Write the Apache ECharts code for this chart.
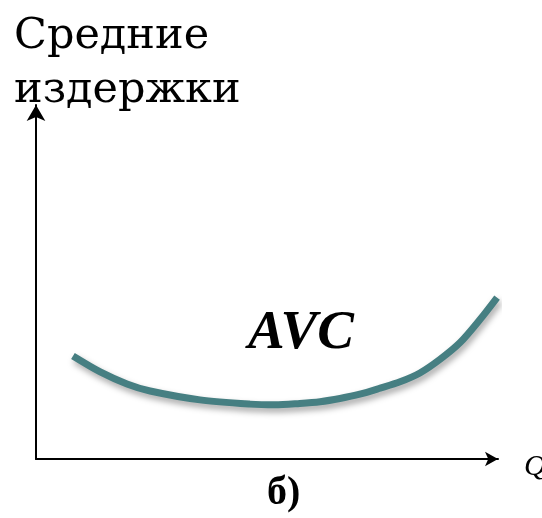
<!DOCTYPE html>
<html>
<head>
<meta charset="utf-8">
<script src="https://cdn.jsdelivr.net/npm/echarts@6/dist/echarts.min.js"></script>
<style>
  html, body { margin: 0; padding: 0; background: #fff; }
  #chart { width: 542px; height: 518px; }
</style>
</head>
<body>
<div id="chart"></div>
<script>
// кривая AVC (условные единицы выпуска и издержек)
let qValues = [8, 13.9, 19.7, 24.7, 35.5, 46.3, 51.7, 57.1, 61.5, 65.8, 70.1, 74.5, 78.8, 83.1, 87.4, 91.8, 96.1, 99.8]
let avcValues = [29.1, 24.6, 21.2, 19.2, 16.7, 15.5, 15.3, 15.7, 16.2, 17.1, 18.3, 20, 21.8, 24.3, 28.1, 32.9, 39.4, 45.6]
let curveName = "AVC"
let yTitle = "Средние\nиздержки"
let xName = "Q"
let caption = "б)"

let myChart = echarts.init(document.getElementById('chart'))

let points = qValues.map((q, i) => [q, avcValues[i]])

let serif = "Liberation Serif"

let option = {
    animation: false,
    title: {
        text: yTitle,
        left: 9,
        top: 5,
        textStyle: {
            fontFamily: "DejaVu Serif",
            fontWeight: "normal",
            fontSize: 43,
            lineHeight: 54,
            color: "#000"
        }
    },
    grid: {
        left: 36,
        right: 44,
        top: 105,
        bottom: 59
    },
    xAxis: {
        type: "value",
        min: 0,
        max: 100,
        axisLine: {
            lineStyle: { color: "#000", width: 2 },
            symbol: ["none", "arrow"],
            symbolSize: [11, 13]
        },
        axisTick: { show: false },
        axisLabel: { show: false },
        splitLine: { show: false }
    },
    yAxis: {
        type: "value",
        min: 0,
        max: 100,
        axisLine: {
            show: true,
            lineStyle: { color: "#000", width: 2 },
            symbol: ["none", "arrow"],
            symbolSize: [14, 16]
        },
        axisTick: { show: false },
        axisLabel: { show: false },
        splitLine: { show: false }
    },
    series: [
        {
            name: curveName,
            type: "line",
            data: points,
            smooth: 0.3,
            showSymbol: false,
            lineStyle: {
                color: "#467f82",
                width: 7,
                cap: "butt",
                shadowColor: "rgba(0,0,0,0.35)",
                shadowBlur: 6,
                shadowOffsetX: 2,
                shadowOffsetY: 4
            }
        }
    ],
    graphic: [
        {
            type: "text",
            left: 248,
            top: 306,
            style: {
                text: curveName,
                fontFamily: serif,
                fontStyle: "italic",
                fontWeight: "bold",
                fontSize: 55,
                fill: "#000"
            }
        },
        {
            type: "text",
            left: 267,
            top: 474,
            style: {
                text: caption,
                fontFamily: serif,
                fontWeight: "bold",
                fontSize: 40,
                fill: "#000"
            }
        },
        {
            type: "text",
            left: 524,
            top: 452,
            style: {
                text: xName,
                fontFamily: serif,
                fontStyle: "italic",
                fontSize: 30,
                fill: "#000"
            }
        }
    ]
}

myChart.setOption(option)
</script>
</body>
</html>
